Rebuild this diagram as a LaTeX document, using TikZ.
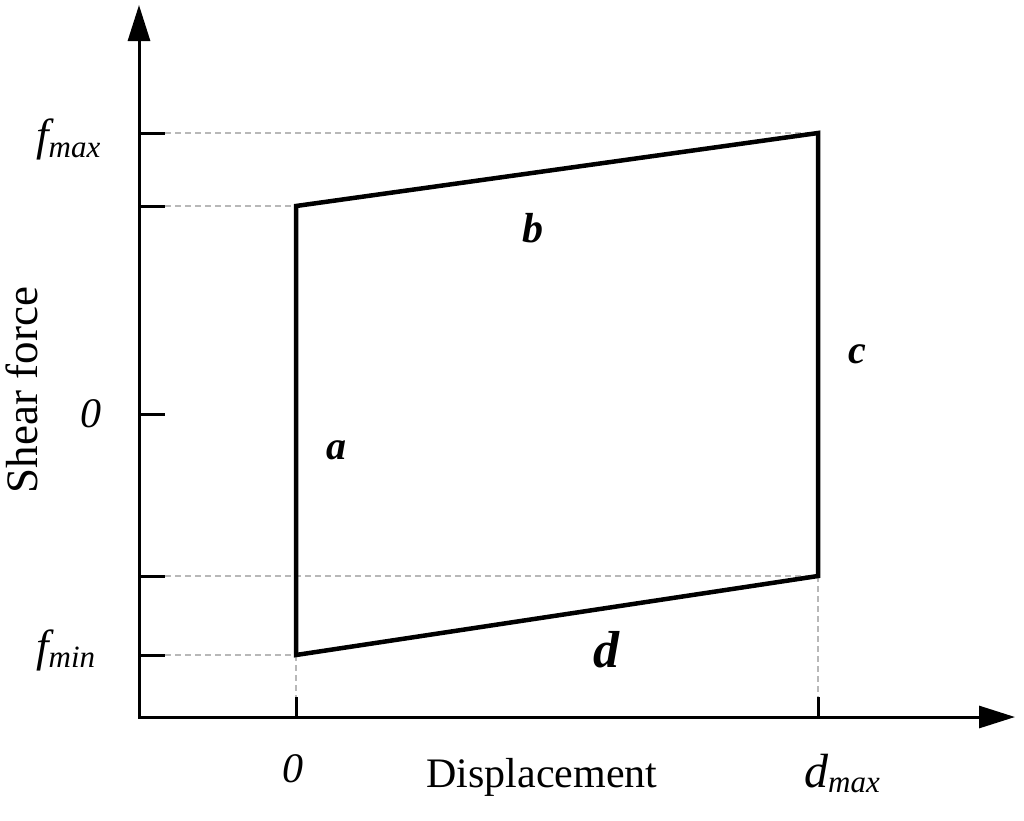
\documentclass[tikz,border=0pt]{standalone}
\usepackage{fontspec}
\setmainfont{Liberation Serif}
\usetikzlibrary{arrows.meta}
\begin{document}
\begin{tikzpicture}[x=1pt,y=-1pt,
  axis/.style={line width=3pt,line join=miter,{Triangle[length=36pt,width=22pt]}-{Triangle[length=36pt,width=22pt]}},
  tickmark/.style={line width=3pt},
  loopline/.style={line width=4.5pt,line join=miter},
  guide/.style={line width=1.2pt,black!28,dash pattern=on 6pt off 4pt},
  seglabel/.style={inner sep=0pt,font=\bfseries\itshape},
  ticklabel/.style={inner sep=0pt,font=\fontsize{42}{42}\selectfont\itshape},
  axislabel/.style={inner sep=0pt,font=\fontsize{44}{44}\selectfont}]
\useasboundingbox (0,0) rectangle (1024,820);
% axes
\coordinate (O) at (139,717);
\coordinate (ytip) at (139,5);
\coordinate (xtip) at (1015,717);
% loop corners
\coordinate (A) at (296,655);
\coordinate (B) at (296,206);
\coordinate (C) at (818,133);
\coordinate (D) at (818,576);
% tick ends
\coordinate (t1a) at (139,133); \coordinate (t1b) at (165,133);
\coordinate (t2a) at (139,206); \coordinate (t2b) at (165,206);
\coordinate (t3a) at (139,414); \coordinate (t3b) at (165,414);
\coordinate (t4a) at (139,576); \coordinate (t4b) at (165,576);
\coordinate (t5a) at (139,655); \coordinate (t5b) at (165,655);
\coordinate (x1a) at (296,717); \coordinate (x1b) at (296,697);
\coordinate (x2a) at (818,717); \coordinate (x2b) at (818,697);
% guides
\draw[guide] (t1b) -- (C);
\draw[guide] (t2b) -- (B);
\draw[guide] (t4b) -- (D);
\draw[guide] (t5b) -- (A);
\draw[guide] (A) -- (x1b);
\draw[guide] (D) -- (x2b);
% axes and ticks
\draw[axis] (ytip) -- (O) -- (xtip);
\foreach \p in {1,...,5} {\draw[tickmark] (t\p a) -- (t\p b);}
\draw[tickmark] (x1a) -- (x1b);
\draw[tickmark] (x2a) -- (x2b);
% loop
\draw[loopline] (A) -- (B) -- (C) -- (D) -- cycle;
% tick labels
\node[inner sep=0pt,anchor=base west] (fmax) at (36,150)
  {\itshape\fontsize{45}{45}\selectfont f\raisebox{-7pt}{\fontsize{31}{31}\selectfont max}};
\node[inner sep=0pt,anchor=base west] (fmin) at (36,661)
  {\itshape\fontsize{45}{45}\selectfont f\raisebox{-6pt}{\fontsize{31}{31}\selectfont min}};
\node[ticklabel] (yzero) at (91,414) {0};
\node[ticklabel] (xzero) at (293,769) {0};
\node[inner sep=0pt,anchor=base west] (dmax) at (804,787)
  {\itshape\fontsize{48}{48}\selectfont d\raisebox{-5pt}{\fontsize{31}{31}\selectfont max}};
% segment labels
\node[seglabel,font=\fontsize{40}{40}\selectfont\bfseries\itshape] (la) at (336,450) {a};
\node[seglabel,font=\fontsize{42}{42}\selectfont\bfseries\itshape] (lb) at (533,228) {b};
\node[seglabel,font=\fontsize{40}{40}\selectfont\bfseries\itshape] (lc) at (857,354) {c};
\node[seglabel,font=\fontsize{52}{52}\selectfont\bfseries\itshape] (ld) at (606,650) {d};
% axis labels
\node[axislabel,anchor=base,font=\fontsize{42}{42}\selectfont] (xlab) at (542,787) {Displacement};
\node[axislabel,anchor=base,rotate=90,font=\fontsize{45}{45}\selectfont] (ylab) at (37,390) {Shear force};
\end{tikzpicture}
\end{document}
